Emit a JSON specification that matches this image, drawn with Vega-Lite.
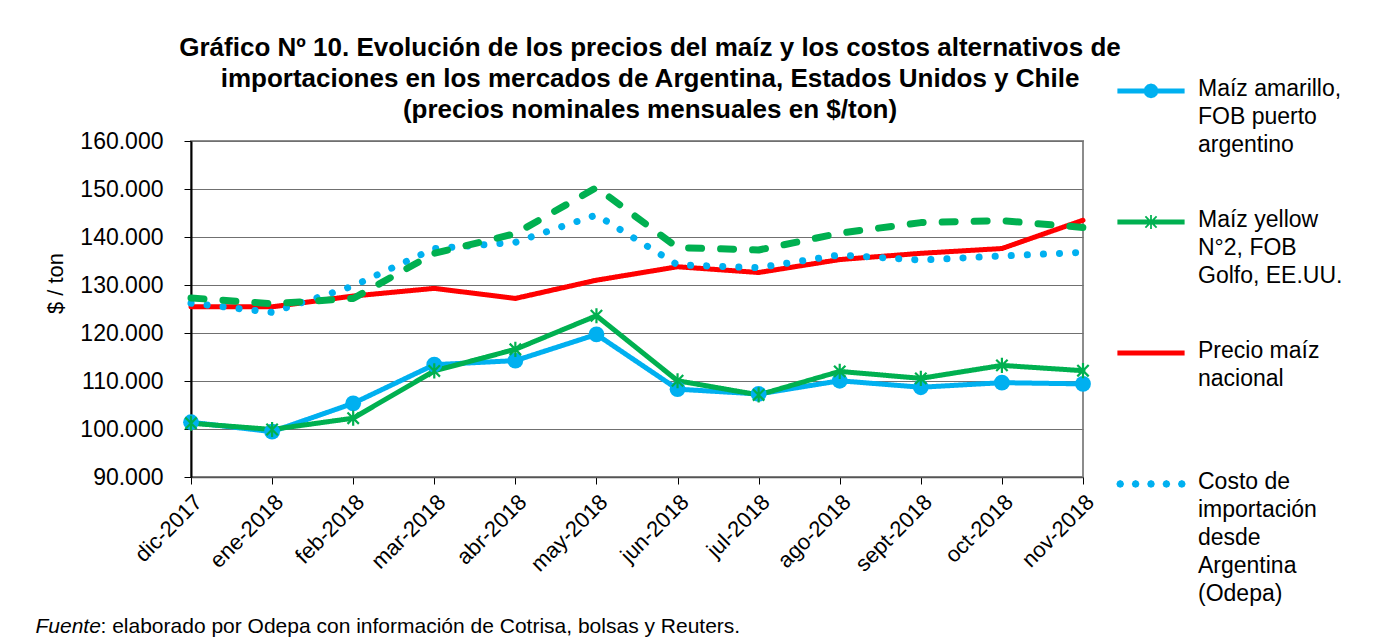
{
  "$schema": "https://vega.github.io/schema/vega-lite/v6.json",
  "width": 892,
  "height": 336,
  "autosize": {"type": "none"},
  "padding": {"left": 191, "top": 141, "right": 301, "bottom": 166},
  "background": "white",
  "config": {
    "font": "Liberation Sans",
    "view": {"stroke": "#8c8c8c", "strokeWidth": 2},
    "axis": {"labelFont": "Liberation Sans", "titleFont": "Liberation Sans", "labelColor": "#000", "titleColor": "#000"},
    "style": {"guide-label": {"lineHeight": 28}}
  },
  "title": {
    "text": [
      "Gráfico Nº 10. Evolución de los precios del maíz y los costos alternativos de",
      "\u00a0\u00a0\u00a0importaciones en los mercados de Argentina, Estados Unidos y Chile",
      "\u00a0\u00a0\u00a0(precios nominales mensuales en $/ton)"
    ],
    "font": "Liberation Sans",
    "fontSize": 26,
    "fontWeight": "bold",
    "color": "#000",
    "anchor": "middle",
    "dx": 13,
    "dy": 88,
    "offset": 8,
    "lineHeight": 31
  },
  "data": {
    "values": [
      {"mes": "dic-2017", "serie": "Maíz amarillo, FOB puerto argentino", "valor": 101400},
      {"mes": "ene-2018", "serie": "Maíz amarillo, FOB puerto argentino", "valor": 99450},
      {"mes": "feb-2018", "serie": "Maíz amarillo, FOB puerto argentino", "valor": 105350},
      {"mes": "mar-2018", "serie": "Maíz amarillo, FOB puerto argentino", "valor": 113400},
      {"mes": "abr-2018", "serie": "Maíz amarillo, FOB puerto argentino", "valor": 114250},
      {"mes": "may-2018", "serie": "Maíz amarillo, FOB puerto argentino", "valor": 119700},
      {"mes": "jun-2018", "serie": "Maíz amarillo, FOB puerto argentino", "valor": 108300},
      {"mes": "jul-2018", "serie": "Maíz amarillo, FOB puerto argentino", "valor": 107300},
      {"mes": "ago-2018", "serie": "Maíz amarillo, FOB puerto argentino", "valor": 110050},
      {"mes": "sept-2018", "serie": "Maíz amarillo, FOB puerto argentino", "valor": 108700},
      {"mes": "oct-2018", "serie": "Maíz amarillo, FOB puerto argentino", "valor": 109650},
      {"mes": "nov-2018", "serie": "Maíz amarillo, FOB puerto argentino", "valor": 109400},
      {"mes": "dic-2017", "serie": "Maíz yellow N°2, FOB Golfo, EE.UU.", "valor": 101200},
      {"mes": "ene-2018", "serie": "Maíz yellow N°2, FOB Golfo, EE.UU.", "valor": 99900},
      {"mes": "feb-2018", "serie": "Maíz yellow N°2, FOB Golfo, EE.UU.", "valor": 102250},
      {"mes": "mar-2018", "serie": "Maíz yellow N°2, FOB Golfo, EE.UU.", "valor": 112100},
      {"mes": "abr-2018", "serie": "Maíz yellow N°2, FOB Golfo, EE.UU.", "valor": 116600},
      {"mes": "may-2018", "serie": "Maíz yellow N°2, FOB Golfo, EE.UU.", "valor": 123600},
      {"mes": "jun-2018", "serie": "Maíz yellow N°2, FOB Golfo, EE.UU.", "valor": 110050},
      {"mes": "jul-2018", "serie": "Maíz yellow N°2, FOB Golfo, EE.UU.", "valor": 107100},
      {"mes": "ago-2018", "serie": "Maíz yellow N°2, FOB Golfo, EE.UU.", "valor": 112000},
      {"mes": "sept-2018", "serie": "Maíz yellow N°2, FOB Golfo, EE.UU.", "valor": 110550},
      {"mes": "oct-2018", "serie": "Maíz yellow N°2, FOB Golfo, EE.UU.", "valor": 113250},
      {"mes": "nov-2018", "serie": "Maíz yellow N°2, FOB Golfo, EE.UU.", "valor": 112150},
      {"mes": "dic-2017", "serie": "Precio maíz nacional", "valor": 125450},
      {"mes": "ene-2018", "serie": "Precio maíz nacional", "valor": 125450},
      {"mes": "feb-2018", "serie": "Precio maíz nacional", "valor": 127700},
      {"mes": "mar-2018", "serie": "Precio maíz nacional", "valor": 129300},
      {"mes": "abr-2018", "serie": "Precio maíz nacional", "valor": 127200},
      {"mes": "may-2018", "serie": "Precio maíz nacional", "valor": 131000},
      {"mes": "jun-2018", "serie": "Precio maíz nacional", "valor": 133800},
      {"mes": "jul-2018", "serie": "Precio maíz nacional", "valor": 132600},
      {"mes": "ago-2018", "serie": "Precio maíz nacional", "valor": 135300},
      {"mes": "sept-2018", "serie": "Precio maíz nacional", "valor": 136600},
      {"mes": "oct-2018", "serie": "Precio maíz nacional", "valor": 137600},
      {"mes": "nov-2018", "serie": "Precio maíz nacional", "valor": 143500},
      {"mes": "dic-2017", "serie": "Costo de importación desde Argentina (Odepa)", "valor": 126200},
      {"mes": "ene-2018", "serie": "Costo de importación desde Argentina (Odepa)", "valor": 124300},
      {"mes": "feb-2018", "serie": "Costo de importación desde Argentina (Odepa)", "valor": 129800},
      {"mes": "mar-2018", "serie": "Costo de importación desde Argentina (Odepa)", "valor": 137600},
      {"mes": "abr-2018", "serie": "Costo de importación desde Argentina (Odepa)", "valor": 138900},
      {"mes": "may-2018", "serie": "Costo de importación desde Argentina (Odepa)", "valor": 144600},
      {"mes": "jun-2018", "serie": "Costo de importación desde Argentina (Odepa)", "valor": 134200},
      {"mes": "jul-2018", "serie": "Costo de importación desde Argentina (Odepa)", "valor": 133600},
      {"mes": "ago-2018", "serie": "Costo de importación desde Argentina (Odepa)", "valor": 136250},
      {"mes": "sept-2018", "serie": "Costo de importación desde Argentina (Odepa)", "valor": 135200},
      {"mes": "oct-2018", "serie": "Costo de importación desde Argentina (Odepa)", "valor": 136050},
      {"mes": "nov-2018", "serie": "Costo de importación desde Argentina (Odepa)", "valor": 136800},
      {"mes": "dic-2017", "serie": "Costo de importación desde EE.UU. (Odepa)", "valor": 127300},
      {"mes": "ene-2018", "serie": "Costo de importación desde EE.UU. (Odepa)", "valor": 126100},
      {"mes": "feb-2018", "serie": "Costo de importación desde EE.UU. (Odepa)", "valor": 127200},
      {"mes": "mar-2018", "serie": "Costo de importación desde EE.UU. (Odepa)", "valor": 136600},
      {"mes": "abr-2018", "serie": "Costo de importación desde EE.UU. (Odepa)", "valor": 140700},
      {"mes": "may-2018", "serie": "Costo de importación desde EE.UU. (Odepa)", "valor": 150300},
      {"mes": "jun-2018", "serie": "Costo de importación desde EE.UU. (Odepa)", "valor": 137800},
      {"mes": "jul-2018", "serie": "Costo de importación desde EE.UU. (Odepa)", "valor": 137300},
      {"mes": "ago-2018", "serie": "Costo de importación desde EE.UU. (Odepa)", "valor": 140800},
      {"mes": "sept-2018", "serie": "Costo de importación desde EE.UU. (Odepa)", "valor": 143000},
      {"mes": "oct-2018", "serie": "Costo de importación desde EE.UU. (Odepa)", "valor": 143400},
      {"mes": "nov-2018", "serie": "Costo de importación desde EE.UU. (Odepa)", "valor": 142000}
    ]
  },
  "layer": [
    {
      "mark": {"type": "line", "strokeCap": "round", "strokeJoin": "round"},
      "encoding": {
        "x": {
          "field": "mes", "type": "ordinal",
          "sort": ["dic-2017","ene-2018","feb-2018","mar-2018","abr-2018","may-2018","jun-2018","jul-2018","ago-2018","sept-2018","oct-2018","nov-2018"],
          "scale": {"padding": 0},
          "axis": {
            "labelAngle": -45, "labelFontSize": 22, "labelPadding": 7,
            "tickSize": 7, "tickColor": "#000", "domainColor": "#555", "domainWidth": 1.5, "grid": false,
            "title": ": elaborado por Odepa con información de Cotrisa, bolsas y Reuters.",
            "titleFontSize": 21, "titleFontWeight": "normal",
            "titleX": -91, "titleY": 155, "titleAlign": "left", "titleAnchor": "start", "titleBaseline": "alphabetic"
          }
        },
        "y": {
          "field": "valor", "type": "quantitative",
          "scale": {"domain": [90000, 160000], "zero": false, "nice": false},
          "axis": {
            "values": [90000, 100000, 110000, 120000, 130000, 140000, 150000, 160000],
            "labelExpr": "replace(format(datum.value, ','), ',', '.')",
            "labelFontSize": 23, "labelPadding": 21,
            "tickSize": 7, "tickColor": "#000", "domainColor": "#000", "domainWidth": 2,
            "grid": true, "gridColor": "#707070", "gridWidth": 1.2,
            "title": "$ / ton", "titleFontSize": 22, "titleFontWeight": "normal",
            "titleX": -136, "titleY": 142, "titleAngle": -90, "titleAlign": "center", "titleBaseline": "middle"
          }
        },
        "detail": {"field": "serie", "type": "nominal"},
        "color": {
          "condition": [
            {"test": "datum.serie == 'Maíz amarillo, FOB puerto argentino' || datum.serie == 'Costo de importación desde Argentina (Odepa)'", "value": "#00B0F0"},
            {"test": "datum.serie == 'Maíz yellow N°2, FOB Golfo, EE.UU.' || datum.serie == 'Costo de importación desde EE.UU. (Odepa)'", "value": "#00B050"}
          ],
          "value": "#FF0000"
        },
        "strokeDash": {
          "condition": [
            {"test": "datum.serie == 'Costo de importación desde Argentina (Odepa)'", "value": [0.1, 16]},
            {"test": "datum.serie == 'Costo de importación desde EE.UU. (Odepa)'", "value": [13, 19]}
          ],
          "value": [1, 0]
        },
        "strokeWidth": {
          "condition": {"test": "datum.serie == 'Costo de importación desde Argentina (Odepa)' || datum.serie == 'Costo de importación desde EE.UU. (Odepa)'", "value": 7},
          "value": 5
        }
      }
    },
    {
      "transform": [{"filter": "datum.serie == 'Maíz amarillo, FOB puerto argentino'"}],
      "mark": {"type": "point", "shape": "circle", "filled": true, "size": 250, "color": "#00B0F0", "opacity": 1},
      "encoding": {
        "x": {
          "field": "mes", "type": "ordinal",
          "sort": ["dic-2017","ene-2018","feb-2018","mar-2018","abr-2018","may-2018","jun-2018","jul-2018","ago-2018","sept-2018","oct-2018","nov-2018"],
          "axis": {
            "orient": "bottom", "labels": false, "ticks": false, "domain": false, "grid": false,
            "title": "Fuente", "titleFontStyle": "italic", "titleFontWeight": "normal", "titleFontSize": 21,
            "titleX": -156, "titleY": 155, "titleAlign": "left", "titleAnchor": "start", "titleBaseline": "alphabetic"
          }
        },
        "y": {"field": "valor", "type": "quantitative"}
      }
    },
    {
      "transform": [{"filter": "datum.serie == 'Maíz yellow N°2, FOB Golfo, EE.UU.'"}],
      "mark": {"type": "point", "shape": "M0,-1L0,1M-0.75,-0.75L0.75,0.75M-0.75,0.75L0.75,-0.75", "filled": false, "size": 230, "color": "#00B050", "strokeWidth": 2.2, "opacity": 1},
      "encoding": {
        "x": {
          "field": "mes", "type": "ordinal",
          "sort": ["dic-2017","ene-2018","feb-2018","mar-2018","abr-2018","may-2018","jun-2018","jul-2018","ago-2018","sept-2018","oct-2018","nov-2018"],
          "axis": null
        },
        "y": {"field": "valor", "type": "quantitative"}
      }
    },
    {
      "transform": [{"filter": "false"}],
      "mark": {"type": "point", "filled": true, "opacity": 1},
      "encoding": {
        "x": {
          "field": "mes", "type": "ordinal",
          "sort": ["dic-2017","ene-2018","feb-2018","mar-2018","abr-2018","may-2018","jun-2018","jul-2018","ago-2018","sept-2018","oct-2018","nov-2018"],
          "axis": null
        },
        "y": {"field": "valor", "type": "quantitative"},
        "color": {
          "field": "serie", "type": "nominal",
          "scale": {
            "domain": ["Maíz amarillo, FOB puerto argentino", "Maíz yellow N°2, FOB Golfo, EE.UU.", "Precio maíz nacional", "Costo de importación desde Argentina (Odepa)", "Costo de importación desde EE.UU. (Odepa)"],
            "range": ["#00B0F0", "#00B050", "#FF0000", "#00B0F0", "#00B050"]
          },
          "legend": {
            "orient": "none", "legendX": 925, "legendY": -98, "title": null,
            "values": ["Maíz amarillo, FOB puerto argentino", "Maíz yellow N°2, FOB Golfo, EE.UU.", "Precio maíz nacional", "Costo de importación desde Argentina (Odepa)"],
            "symbolSize": 4900, "symbolStrokeWidth": 0,
            "labelFont": "Liberation Sans", "labelFontSize": 23, "labelColor": "#000", "labelLimit": 400,
            "labelOffset": 12, "labelBaseline": "top", "rowPadding": 17,
            "labelExpr": "datum.value == 'Maíz amarillo, FOB puerto argentino' ? ['Maíz amarillo,', 'FOB puerto', 'argentino'] : datum.value == 'Maíz yellow N°2, FOB Golfo, EE.UU.' ? ['Maíz yellow', 'N°2, FOB', 'Golfo, EE.UU.'] : datum.value == 'Precio maíz nacional' ? ['Precio maíz', 'nacional', ''] : ['Costo de', 'importación', 'desde', 'Argentina', '(Odepa)']"
          }
        },
        "shape": {
          "field": "serie", "type": "nominal",
          "scale": {
            "domain": ["Maíz amarillo, FOB puerto argentino", "Maíz yellow N°2, FOB Golfo, EE.UU.", "Precio maíz nacional", "Costo de importación desde Argentina (Odepa)", "Costo de importación desde EE.UU. (Odepa)"],
            "range": [
              "M-0.96,0.3L0.96,0.3L0.96,0.44L-0.96,0.44ZM0.21,0.37L0.182,0.475L0.105,0.552L0,0.58L-0.105,0.552L-0.182,0.475L-0.21,0.37L-0.182,0.265L-0.105,0.188L0,0.16L0.105,0.188L0.182,0.265Z",
              "M-0.96,0.3L0.96,0.3L0.96,0.44L-0.96,0.44ZM-0.025,0.17L0.025,0.17L0.025,0.57L-0.025,0.57ZM-0.142,0.192L0.178,0.512L0.142,0.548L-0.178,0.228ZM-0.178,0.512L0.142,0.192L0.178,0.228L-0.142,0.548Z",
              "M-0.96,0.3L0.96,0.3L0.96,0.44L-0.96,0.44Z",
              "M-0.77,0.37L-0.802,0.448L-0.88,0.48L-0.958,0.448L-0.99,0.37L-0.958,0.292L-0.88,0.26L-0.802,0.292ZM-0.33,0.37L-0.362,0.448L-0.44,0.48L-0.518,0.448L-0.55,0.37L-0.518,0.292L-0.44,0.26L-0.362,0.292ZM0.11,0.37L0.078,0.448L0,0.48L-0.078,0.448L-0.11,0.37L-0.078,0.292L0,0.26L0.078,0.292ZM0.55,0.37L0.518,0.448L0.44,0.48L0.362,0.448L0.33,0.37L0.362,0.292L0.44,0.26L0.518,0.292ZM0.99,0.37L0.958,0.448L0.88,0.48L0.802,0.448L0.77,0.37L0.802,0.292L0.88,0.26L0.958,0.292Z",
              "M-0.96,0.3L0.96,0.3L0.96,0.44L-0.96,0.44Z"
            ]
          },
          "legend": {
            "orient": "none", "legendX": 925, "legendY": -98, "title": null,
            "values": ["Maíz amarillo, FOB puerto argentino", "Maíz yellow N°2, FOB Golfo, EE.UU.", "Precio maíz nacional", "Costo de importación desde Argentina (Odepa)"],
            "symbolSize": 4900, "symbolStrokeWidth": 0,
            "labelFont": "Liberation Sans", "labelFontSize": 23, "labelColor": "#000", "labelLimit": 400,
            "labelOffset": 12, "labelBaseline": "top", "rowPadding": 17,
            "labelExpr": "datum.value == 'Maíz amarillo, FOB puerto argentino' ? ['Maíz amarillo,', 'FOB puerto', 'argentino'] : datum.value == 'Maíz yellow N°2, FOB Golfo, EE.UU.' ? ['Maíz yellow', 'N°2, FOB', 'Golfo, EE.UU.'] : datum.value == 'Precio maíz nacional' ? ['Precio maíz', 'nacional', ''] : ['Costo de', 'importación', 'desde', 'Argentina', '(Odepa)']"
          }
        }
      }
    }
  ],
  "resolve": {"axis": {"x": "independent"}}
}
